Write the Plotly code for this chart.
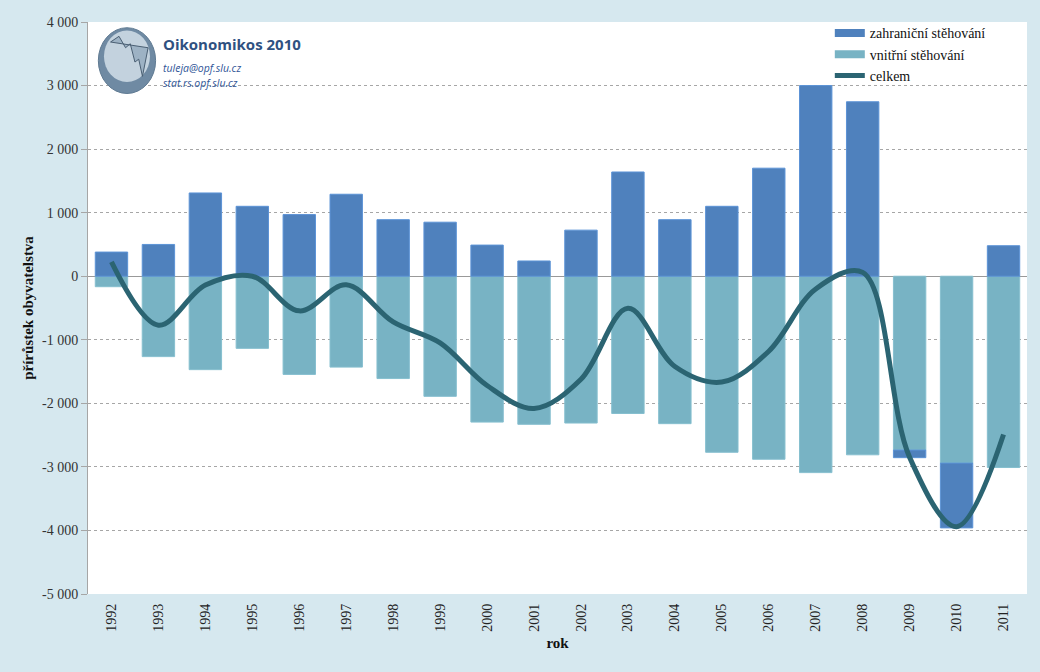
import plotly.graph_objects as go

years = [str(y) for y in range(1992, 2012)]
zahranicni = [380, 500, 1310, 1100, 970, 1290, 890, 850, 490, 240, 725, 1640, 890, 1100, 1700, 3000, 2745, -120, -1020, 480]
vnitrni = [-165, -1265, -1470, -1135, -1545, -1430, -1610, -1890, -2295, -2330, -2310, -2160, -2320, -2770, -2880, -3090, -2810, -2735, -2940, -3010]
celkem = [225, -770, -140, 0, -545, -135, -720, -1050, -1720, -2080, -1620, -505, -1420, -1665, -1180, -200, 60, -2850, -3940, -2490]

yticks = [4000, 3000, 2000, 1000, 0, -1000, -2000, -3000, -4000, -5000]
yticklabels = ["4 000", "3 000", "2 000", "1 000", "0", "-1 000", "-2 000", "-3 000", "-4 000", "-5 000"]

SERIF = "Liberation Serif"
C_ZAHR = "#4F81BD"
C_VNIT = "#78B3C4"
C_LINE = "#2B6472"
BG = "#D6E8EF"

fig = go.Figure()
fig.add_trace(go.Bar(x=years, y=vnitrni, name="vnitřní stěhování", showlegend=False,
                     marker=dict(color=C_VNIT, line=dict(color="#86BFCF", width=1))))
fig.add_trace(go.Bar(x=years, y=zahranicni, name="zahraniční stěhování", showlegend=False,
                     marker=dict(color=C_ZAHR, line=dict(color="#5C93D6", width=1))))
fig.add_trace(go.Scatter(x=years, y=celkem, name="celkem", mode="lines", showlegend=False,
                         line=dict(color=C_LINE, width=5, shape="spline", smoothing=1.0)))
# legend entries (wide rectangle symbols like the original)
fig.add_trace(go.Scatter(x=[years[0]], y=[None], name="zahraniční stěhování", mode="lines",
                         line=dict(color=C_ZAHR, width=8), legendrank=1))
fig.add_trace(go.Scatter(x=[years[0]], y=[None], name="vnitřní stěhování", mode="lines",
                         line=dict(color=C_VNIT, width=8), legendrank=2))
fig.add_trace(go.Scatter(x=[years[0]], y=[None], name="celkem", mode="lines",
                         line=dict(color=C_LINE, width=5), legendrank=3))

# logo decoration
shapes = [
    dict(type="rect", xref="paper", yref="paper", x0=0.075, x1=0.23, y0=0.885, y1=0.99, fillcolor="white", line=dict(width=0), layer="between"),
    dict(type="circle", xref="paper", yref="paper", x0=0.011, x1=0.072, y0=0.875, y1=0.99, fillcolor="#6F8AA3", line=dict(color="#5F7A92", width=1), layer="above"),
    dict(type="circle", xref="paper", yref="paper", x0=0.017, x1=0.066, y0=0.895, y1=0.985, fillcolor="#C3D2DE", line=dict(width=0), layer="above"),
    dict(type="path", xref="paper", yref="paper", path="M 0.024 0.965 L 0.033 0.975 L 0.04 0.955 L 0.045 0.962 L 0.05 0.93 L 0.054 0.935 L 0.058 0.905 L 0.064 0.955 Z", fillcolor="#9DB2C4", line=dict(color="#4A5F73", width=1), layer="above"),
]

fig.update_layout(
    width=1040, height=672,
    barmode="relative",
    bargap=0.31,
    paper_bgcolor=BG,
    plot_bgcolor="white",
    margin=dict(l=88, r=13, t=22, b=78),
    font=dict(family=SERIF, size=14, color="#222222"),
    showlegend=True,
    legend=dict(x=0.79, y=1.008, xanchor="left", yanchor="top", bgcolor="rgba(0,0,0,0)",
                font=dict(family=SERIF, size=14, color="#111111"), tracegroupgap=0, itemwidth=30),
    shapes=shapes,
    annotations=[
        dict(text="<b>Oikonomikos 2010</b>", xref="paper", yref="paper", x=0.078, y=0.962, xanchor="left", yanchor="middle",
             showarrow=False, font=dict(family="Open Sans", size=15, color="#2F5181")),
        dict(text="<i>tuleja@opf.slu.cz</i>", xref="paper", yref="paper", x=0.078, y=0.92, xanchor="left", yanchor="middle",
             showarrow=False, font=dict(family="Open Sans", size=10.5, color="#2F5597")),
        dict(text="<i>stat.rs.opf.slu.cz</i>", xref="paper", yref="paper", x=0.078, y=0.893, xanchor="left", yanchor="middle",
             showarrow=False, font=dict(family="Open Sans", size=10.5, color="#2F5597")),
    ],
)

fig.update_xaxes(
    type="category",
    tickangle=-90,
    tickfont=dict(family=SERIF, size=14, color="#222222"),
    ticklabelstandoff=6,
    title=dict(text="<b>rok</b>", font=dict(family=SERIF, size=15, color="#111111"), standoff=6),
    showline=False, showgrid=False, ticks="",
)
fig.update_yaxes(
    range=[-5000, 4000],
    tickvals=yticks, ticktext=yticklabels,
    tickfont=dict(family=SERIF, size=14, color="#333333"),
    showgrid=True, gridcolor="#A6A6A6", griddash="dot", gridwidth=1,
    zeroline=True, zerolinecolor="#999999", zerolinewidth=1,
    showline=True, linecolor="#A6A6A6", linewidth=1,
    ticks="outside", ticklen=6, tickcolor="#A6A6A6",
    title=dict(text="<b>přírůstek obyvatelstva</b>", font=dict(family=SERIF, size=15, color="#111111"), standoff=4),
)

fig.write_html("out.html", config={"displayModeBar": False},
               post_script="document.body.style.margin='0';document.body.style.background='" + BG + "';")
